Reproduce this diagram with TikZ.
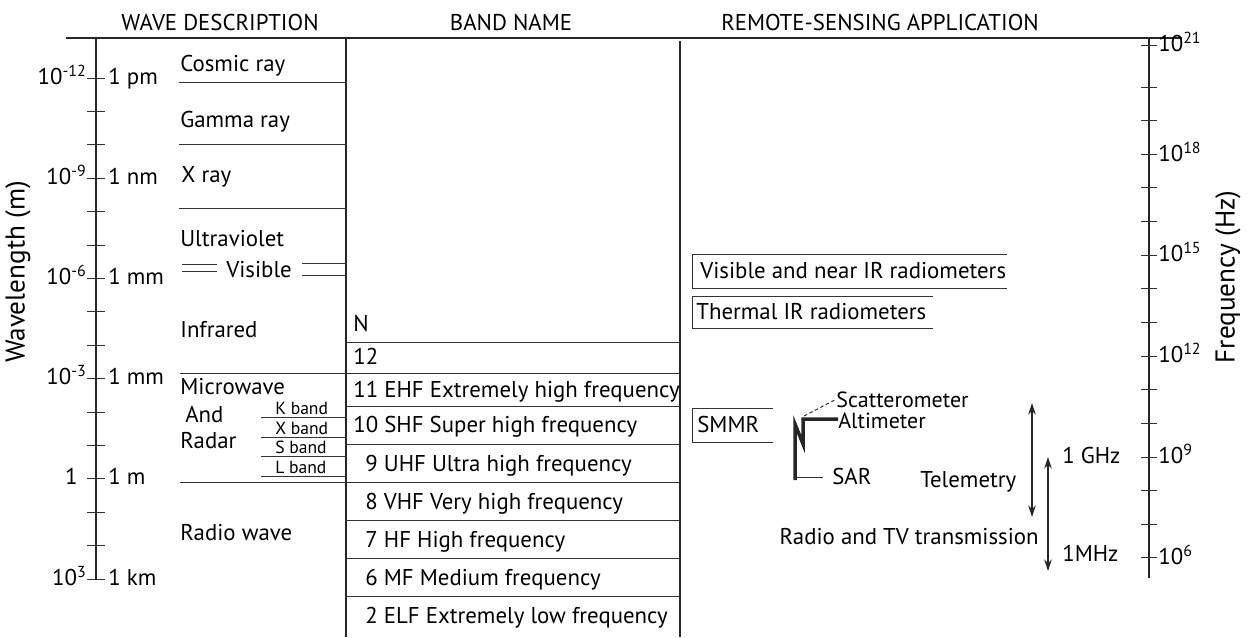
\documentclass[tikz,border=0pt]{standalone}
\usepackage{fontspec}
\setmainfont{PT Sans}
\usepackage{tikz}
\usetikzlibrary{arrows.meta}

\begin{document}
\begin{tikzpicture}[x=0.02cm,y=-0.02cm,font=\fontsize{13}{15}\selectfont,
  txt/.style={anchor=base west,inner sep=0pt},
  rtxt/.style={anchor=base east,inner sep=0pt},
  hdr/.style={anchor=base,inner sep=0pt},
  sub/.style={anchor=base west,inner sep=0pt,font=\fontsize{10}{11}\selectfont},
  inst/.style={anchor=base west,inner sep=0pt,font=\fontsize{12.5}{12}\selectfont},
  axlbl/.style={rotate=90,inner sep=0pt,font=\fontsize{15.5}{17}\selectfont},
  axis/.style={line width=1.2pt,black!85},
  thin/.style={line width=0.55pt,black!80},
  dblarr/.style={{Stealth[length=2.3mm,width=1.5mm]}-{Stealth[length=2.3mm,width=1.5mm]},line width=0.75pt,black!85}]
\useasboundingbox (0,0) rectangle (1250,637);
% headings and frame
\node[hdr] (hwave) at (220,30) {WAVE DESCRIPTION};
\node[hdr] (hband) at (511,30) {BAND NAME};
\node[hdr] (happ)  at (880,30) {REMOTE-SENSING APPLICATION};
\draw[axis] (66,38)--(1182,38);
\draw[line width=1pt,black!85] (346,38)--(346,637);
\draw[line width=1pt,black!85] (680,41)--(680,637);
% wavelength axis
\node[axlbl] (wlen) at (18,272) {Wavelength (m)};
\draw[axis] (96,38)--(96,579);
\foreach \k in {0,...,15} \draw[thin] (87,{78+33.4*\k})--(105,{78+33.4*\k});
\foreach \k/\lft/\rgt in {0/{10\textsuperscript{-12}}/1 pm,3/{10\textsuperscript{-9}}/1 nm,6/{10\textsuperscript{-6}}/1 mm,9/{10\textsuperscript{-3}}/1 mm,15/{10\textsuperscript{3}}/1 km}{
  \node[rtxt] (wl\k) at (87,{84+33.4*\k}) {\lft};
  \node[txt]  (wu\k) at (108,{84+33.4*\k}) {\rgt};}
\node[rtxt] (wl12) at (78,{84+33.4*12}) {1};
\node[txt]  (wu12) at (108,{84+33.4*12}) {1 m};
% frequency axis
\node[axlbl] (freq) at (1228,277) {Frequency (Hz)};
\draw[axis] (1149,38)--(1149,578);
\draw[thin] (1141,45)--(1157,45);
\foreach \k in {0,...,14} \draw[thin] (1141,{87+33.64*\k})--(1157,{87+33.64*\k});
\foreach \y/\e in {45/21,155/18,255/15,356/12,457/9,558/6}
  \node[txt] (f\e) at (1158,\y+6) {10\textsuperscript{\e}};
% wave description column
\node[txt] (cosmic) at (180,71)  {Cosmic ray};
\node[txt] (gamma)  at (180,127) {Gamma ray};
\node[txt] (xray)   at (181,182) {X ray};
\node[txt] (uv)     at (180,246) {Ultraviolet};
\node[txt] (vis)    at (226,277) {Visible};
\node[txt] (ir)     at (180,337) {Infrared};
\node[txt] (mw)     at (180,394) {Microwave};
\node[txt] (and)    at (185,422) {And};
\node[txt] (radar)  at (180,448) {Radar};
\node[txt] (radio)  at (180,540) {Radio wave};
\node[sub] (kband)  at (275,414) {K band};
\node[sub] (xband)  at (275,434) {X band};
\node[sub] (sband)  at (275,453) {S band};
\node[sub] (lband)  at (275,473) {L band};
\foreach \y in {82,144,208} \draw[thin] (179,\y)--(346,\y);
\foreach \y in {417,437,456,476} \draw[thin] (261,\y)--(346,\y);
\draw[thin] (182,264)--(217,264) (182,271)--(217,271);
\draw[thin] (302,263)--(346,263) (302,275)--(346,275);
% band name column
\foreach \y in {342,406,444,520,558,596} \draw[thin] (346,\y)--(680,\y);
\foreach \y in {373,482} \draw[thin] (180,\y)--(680,\y);
\node[txt] (bN)   at (353,331) {N};
\node[txt] (b12)  at (353,364) {12};
\node[txt] (b11)  at (353,397) {11 EHF Extremely high frequency};
\node[txt] (b10)  at (353,432) {10 SHF Super high frequency};
\node[txt] (b9)   at (365,471) {9 UHF Ultra high frequency};
\node[txt] (b8)   at (365,509) {8 VHF Very high frequency};
\node[txt] (b7)   at (365,547) {7 HF High frequency};
\node[txt] (b6)   at (365,585) {6 MF Medium frequency};
\node[txt] (b2)   at (365,623) {2 ELF Extremely low frequency};
% remote-sensing column
\node[txt] (visrad) at (700,278) {Visible and near IR radiometers};
\node[txt] (thrad)  at (696,319) {Thermal IR radiometers};
\node[txt] (smmr)   at (697,432) {SMMR};
\draw[thin] (1007,254)--(692,254)--(692,288)--(1007,288);
\draw[thin] (933,296)--(692,296)--(692,328)--(933,328);
\draw[thin] (773,408)--(692,408)--(692,442)--(773,442);
\node[inst] (scat) at (836,407) {Scatterometer};
\node[inst] (alti) at (838,428) {Altimeter};
\node[txt]  (sar)  at (832,484) {SAR};
\draw[line width=2pt,black!85] (795,480)--(795,424)--(803,444)--(803,419)--(alti.west|-803,419);
\draw[thin,dash pattern=on 2pt off 1.5pt] (804,416)--(scat.west);
\draw[thin] (795,477)--(823,477);
\node[txt] (telem) at (920,487) {Telemetry};
\node[rtxt] (rtv)  at (1039,544) {Radio and TV transmission};
\node[txt] (ghz)   at (1062,463) {1 GHz};
\node[txt] (mhz)   at (1062,561) {1MHz};
\coordinate (tmtop) at (1032,403); \coordinate (tmbot) at (1032,517);
\coordinate (tvtop) at (1048,457); \coordinate (tvbot) at (1048,571);
\draw[dblarr] (tmtop)--(tmbot);
\draw[dblarr] (tvtop)--(tvbot);
\end{tikzpicture}
\end{document}
